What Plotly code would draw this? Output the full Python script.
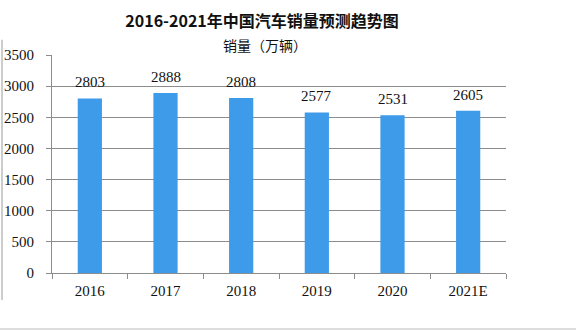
import plotly.graph_objects as go

years = ["2016", "2017", "2018", "2019", "2020", "2021E"]
sales = [2803, 2888, 2808, 2577, 2531, 2605]
title_text = "2016-2021年中国汽车销量预测趋势图"
unit_text = "销量（万辆）"

fig = go.Figure()
fig.add_trace(go.Bar(
    x=years, y=sales, width=0.32,
    marker=dict(color="#3D9BEA", line=dict(width=0)),
))
for i, v in enumerate(sales):
    fig.add_annotation(x=i, y=v, text=str(v), showarrow=False, yanchor="bottom", yshift=6,
                       font=dict(family="Liberation Serif, serif", size=15, color="#111"))

W = 454.0
H = 218.0
fig.update_layout(
    width=576, height=330,
    margin=dict(l=52, r=70, t=55, b=57),
    paper_bgcolor="white", plot_bgcolor="white",
    showlegend=False,
    title=dict(text="<b>" + title_text + "</b>", x=0.455, xanchor="center", y=0.935, yanchor="middle",
               font=dict(family="Noto Sans CJK SC, serif", size=16, color="#111")),
    bargap=0.68,
)
fig.add_annotation(text=unit_text, xref="paper", yref="paper", x=0.47, y=1.0, yshift=10,
                   xanchor="center", yanchor="middle", showarrow=False,
                   font=dict(family="Noto Sans CJK SC", size=14, color="#111"))
fig.update_yaxes(range=[0, 3500], dtick=500, showgrid=True, gridcolor="#8c8c8c", gridwidth=1,
                 showline=True, linecolor="#8c8c8c", ticks="outside", ticklen=5, tickcolor="#8c8c8c",
                 ticklabelstandoff=9, automargin=False,
                 tickfont=dict(family="Liberation Serif, serif", size=15, color="#111"), zeroline=False)
fig.update_xaxes(type="category", categoryorder="array", categoryarray=years,
                 range=[-0.5, len(years) - 0.5], automargin=False,
                 showline=True, linecolor="#8c8c8c", ticks="outside", ticklen=5, tickcolor="#8c8c8c",
                 tickson="boundaries", ticklabelstandoff=4, tickangle=0,
                 tickfont=dict(family="Liberation Serif, serif", size=15, color="#111"))

fig.add_shape(type="line", xref="paper", yref="paper", x0=-50/W, x1=-50/W, y0=-27/H, y1=1.07,
              line=dict(color="#999", width=1))
fig.add_shape(type="line", xref="paper", yref="paper", x0=-52/W, x1=524/W, y0=-56/H, y1=-56/H,
              line=dict(color="#bbb", width=1))

fig.write_html("out.html")
